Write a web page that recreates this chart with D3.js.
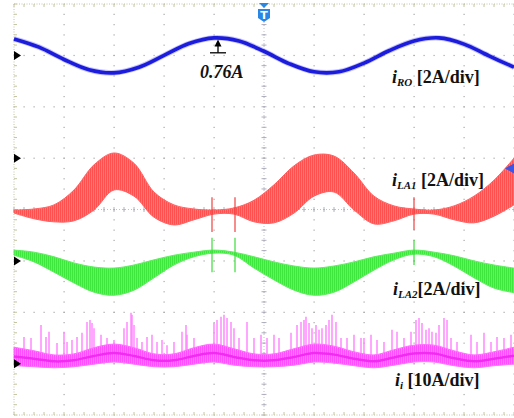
<!DOCTYPE html>
<html>
<head>
<meta charset="utf-8">
<script src="https://cdn.jsdelivr.net/npm/d3@7"></script>
<style>
  html, body { margin: 0; padding: 0; background: #fff; }
  svg { display: block; }
</style>
</head>
<body>
<div id="scope"></div>
<script>
// all values in screen divisions: time 0..10, amplitude -4..4

// iRO (blue), sampled every half division
const blueT = [0, 0.5, 1, 1.5, 2, 2.5, 3, 3.5, 4, 4.5, 5, 5.5, 6, 6.5, 7, 7.5, 8, 8.5, 9, 9.5, 10];
const blueY = [3.32, 3.16, 2.92, 2.72, 2.66, 2.77, 3.00, 3.23, 3.34, 3.28, 3.08, 2.84, 2.68, 2.68, 2.85, 3.09, 3.28, 3.34, 3.22, 2.99, 2.77];

// band traces sampled every 0.4 division
const bandT = [0, 0.4, 0.8, 1.2, 1.6, 2.0, 2.4, 2.8, 3.2, 3.6, 4.0, 4.4, 4.8, 5.2, 5.6, 6.0, 6.4, 6.8, 7.2, 7.6, 8.0, 8.4, 8.8, 9.2, 9.6, 10];

// iLA1 (red) envelope
const redHi = [-0.01, 0.01, 0.09, 0.38, 0.87, 1.10, 0.90, 0.34, 0.09, 0.01, -0.01, 0.03, 0.18, 0.48, 0.85, 1.06, 1.04, 0.71, 0.26, 0.07, 0.01, -0.01, 0.07, 0.26, 0.57, 1.00];
const redLo = [-0.07, -0.18, -0.24, -0.22, -0.01, 0.38, 0.26, -0.15, -0.30, -0.20, -0.09, -0.09, -0.24, -0.26, -0.07, 0.26, 0.34, -0.01, -0.28, -0.22, -0.09, -0.09, -0.20, -0.26, -0.13, 0.09];

// iLA2 (green) envelope
const greenHi = [-0.79, -0.83, -0.92, -1.04, -1.12, -1.14, -1.08, -0.98, -0.89, -0.83, -0.79, -0.83, -0.92, -1.02, -1.10, -1.14, -1.10, -1.02, -0.92, -0.85, -0.79, -0.83, -0.90, -1.00, -1.08, -1.14];
const greenLo = [-0.89, -1.02, -1.22, -1.43, -1.61, -1.67, -1.57, -1.33, -1.08, -0.92, -0.85, -0.89, -1.14, -1.37, -1.57, -1.67, -1.61, -1.41, -1.18, -0.98, -0.87, -0.92, -1.10, -1.33, -1.53, -1.62];

// ii (magenta) envelope
const magHi = [-2.68, -2.75, -2.83, -2.81, -2.69, -2.62, -2.69, -2.81, -2.81, -2.69, -2.62, -2.71, -2.81, -2.81, -2.71, -2.62, -2.66, -2.77, -2.83, -2.73, -2.64, -2.64, -2.75, -2.83, -2.77, -2.68];
const magLo = [-3.04, -3.06, -3.08, -3.06, -3.01, -2.97, -3.01, -3.06, -3.06, -3.01, -2.97, -3.03, -3.06, -3.06, -3.03, -2.97, -2.99, -3.04, -3.08, -3.03, -2.97, -2.97, -3.04, -3.08, -3.04, -3.01];

// ii spikes: time and peak
const spikeT = [0.20, 0.34, 0.54, 0.64, 0.70, 0.86, 1.00, 1.06, 1.16, 1.26, 1.36, 1.46, 1.52, 1.56, 1.60, 1.74, 1.86, 2.00, 2.20, 2.26,
  2.34, 2.36, 2.40, 2.46, 2.56, 2.66, 2.76, 2.86, 2.96, 3.06, 3.20, 3.36, 3.44, 3.46, 3.60, 3.80, 4.00, 4.06, 4.14, 4.20,
  4.26, 4.34, 4.40, 4.50, 4.66, 4.80, 4.94,
  5.06, 5.20, 5.30, 5.54, 5.66, 5.74, 5.80, 5.84, 5.90, 5.96, 6.04, 6.10, 6.16, 6.24, 6.30, 6.36, 6.44, 6.54, 6.66, 6.80,
  6.94, 7.00, 7.14, 7.26, 7.40, 7.56, 7.66, 7.80, 7.94, 8.04, 8.10, 8.16, 8.24, 8.30, 8.36, 8.44, 8.50, 8.60, 8.66, 8.74,
  8.86, 9.14, 9.26, 9.40, 9.54, 9.66, 9.80, 9.94];
const spikeTop = [-2.48, -2.50, -2.25, -2.48, -2.38, -2.60, -2.38, -2.58, -2.54, -2.48, -2.40, -2.19, -2.15, -2.21, -2.31, -2.44, -2.50, -2.54, -2.31, -2.19,
  -2.01, -2.05, -2.25, -2.50, -2.58, -2.48, -2.44, -2.58, -2.54, -2.64, -2.58, -2.38, -2.25, -2.44, -2.50, -2.64, -2.21, -2.15, -2.09, -2.05,
  -2.11, -2.19, -2.31, -2.50, -2.19, -2.50, -2.44,
  -2.50, -2.44, -2.50, -2.40, -2.25, -2.19, -2.15, -2.09, -2.21, -2.31, -2.25, -2.34, -2.31, -2.25, -2.15, -2.05, -2.19, -2.50, -2.50, -2.44,
  -2.50, -2.50, -2.44, -2.54, -2.58, -2.34, -2.38, -2.50, -2.38, -2.15, -2.11, -2.21, -2.34, -2.31, -2.38, -2.40, -2.25, -2.11, -2.15, -2.50,
  -2.58, -2.44, -2.58, -2.40, -2.58, -2.48, -2.50, -2.44];

// switching glitches on iLA1 / iLA2
const glitchT = [3.96, 4.42, 8.00];
const redGlitch = [[0.24, -0.44], [0.24, -0.44], [0.24, -0.40]];
const greenGlitch = [[-0.55, -1.22], [-0.55, -1.22], [-0.59, -1.08]];

// channel ground markers and labels
const groundLevels = [3, 1, -1, -3];
const channels = [
  { sub: "RO", scale: " [2A/div]", t: 7.56, a: 2.47 },
  { sub: "LA1", scale: " [2A/div]", t: 7.56, a: 0.46 },
  { sub: "LA2", scale: "[2A/div]", t: 7.58, a: -1.66 },
  { sub: "i", scale: " [10A/div]", t: 7.62, a: -3.43 }
];

const W = 514, H = 418;
const x = d3.scaleLinear().domain([0, 10]).range([14, 514]);
const y = d3.scaleLinear().domain([-4, 4]).range([415, 4]);

const svg = d3.select("#scope").append("svg")
  .attr("width", W)
  .attr("height", H);

svg.append("rect").attr("width", W).attr("height", H).attr("fill", "#fff");

// fine stripe patterns to hint at the switching ripple texture
const defs = svg.append("defs");
function stripes(id, base, light) {
  const p = defs.append("pattern")
    .attr("id", id)
    .attr("patternUnits", "userSpaceOnUse")
    .attr("width", 2).attr("height", 6);
  p.append("rect").attr("width", 2).attr("height", 6).attr("fill", base);
  p.append("rect").attr("x", 1).attr("width", 1).attr("height", 6).attr("fill", light);
}
stripes("redFill", "#ff5050", "#ff7676");
stripes("greenFill", "#3ee63e", "#66ee66");
stripes("magFill", "#ff4cff", "#ff7cff");

// grid: dotted lines with a dot every fifth of a division
const grid = svg.append("g");
const minorX = d3.range(0, 50.5).map(i => i / 5);
const minorY = d3.range(0, 40.5).map(i => i / 5 - 4);
const majorX = d3.range(0, 11);
const majorY = d3.range(-4, 5);

majorX.slice(1).forEach(mx => {
  grid.selectAll(null).data(minorY).join("rect")
    .attr("x", x(mx) - 0.5).attr("y", d => y(d) - 0.5)
    .attr("width", 1.2).attr("height", 1.2)
    .attr("fill", "#a8a8a8");
});
majorY.slice(1, -1).forEach(my => {
  grid.selectAll(null).data(minorX).join("rect")
    .attr("x", d => x(d) - 0.5).attr("y", y(my) - 0.5)
    .attr("width", 1.2).attr("height", 1.2)
    .attr("fill", "#a8a8a8");
});

// center cross with ticks
grid.selectAll(null).data(minorX).join("line")
  .attr("x1", d => x(d)).attr("x2", d => x(d))
  .attr("y1", y(0) - 2.5).attr("y2", y(0) + 2.5)
  .attr("stroke", "#a8a8b8").attr("stroke-width", 0.9);
grid.selectAll(null).data(minorY).join("line")
  .attr("y1", d => y(d)).attr("y2", d => y(d))
  .attr("x1", x(5) - 2.5).attr("x2", x(5) + 2.5)
  .attr("stroke", "#a8a8b8").attr("stroke-width", 0.9);
grid.append("line")
  .attr("x1", x(0)).attr("x2", x(10)).attr("y1", y(0)).attr("y2", y(0))
  .attr("stroke", "#b0b0c4").attr("stroke-width", 0.8).attr("stroke-dasharray", "1,2");
grid.append("line")
  .attr("x1", x(5)).attr("x2", x(5)).attr("y1", y(4)).attr("y2", y(-4))
  .attr("stroke", "#b0b0c4").attr("stroke-width", 0.8).attr("stroke-dasharray", "1,2");

// border
const borderCol = "#c4c4a4";
[[x(0), y(4), x(10), y(4)], [x(0), y(-4), x(10), y(-4)], [x(0), y(4), x(0), y(-4)]].forEach(b => {
  grid.append("line")
    .attr("x1", b[0]).attr("y1", b[1]).attr("x2", b[2]).attr("y2", b[3])
    .attr("stroke", borderCol).attr("stroke-width", 1)
    .attr("stroke-dasharray", "1,1.5");
});
grid.selectAll(null).data(minorX).join("line")
  .attr("x1", d => x(d)).attr("x2", d => x(d))
  .attr("y1", y(4)).attr("y2", y(4) + 3)
  .attr("stroke", borderCol);
grid.selectAll(null).data(minorX).join("line")
  .attr("x1", d => x(d)).attr("x2", d => x(d))
  .attr("y1", y(-4)).attr("y2", y(-4) - 3)
  .attr("stroke", borderCol);
grid.selectAll(null).data(minorY).join("line")
  .attr("y1", d => y(d)).attr("y2", d => y(d))
  .attr("x1", x(0)).attr("x2", x(0) + 3)
  .attr("stroke", borderCol);

// traces
const traces = svg.append("g");
const band = d3.area()
  .x(d => x(d.t))
  .y0(d => y(d.lo))
  .y1(d => y(d.hi))
  .curve(d3.curveCatmullRom.alpha(0.5));
const mid = d3.line()
  .x(d => x(d.t))
  .y(d => y((d.lo + d.hi) / 2))
  .curve(d3.curveCatmullRom.alpha(0.5));

function rows(hi, lo) {
  return bandT.map((t, i) => ({ t: t, hi: hi[i], lo: lo[i] }));
}

const redRows = rows(redHi, redLo);
const greenRows = rows(greenHi, greenLo);
const magRows = rows(magHi, magLo);

// magenta spikes behind the band
traces.selectAll(".spike").data(spikeT).join("line")
  .attr("class", "spike")
  .attr("x1", d => x(d)).attr("x2", d => x(d))
  .attr("y1", y(-2.9))
  .attr("y2", (d, i) => y(spikeTop[i]))
  .attr("stroke", "#ff80ff").attr("stroke-width", 1.4);

traces.append("path").datum(magRows)
  .attr("d", band).attr("fill", "url(#magFill)").attr("stroke", "#ff70ff").attr("stroke-width", 1);
traces.append("path").datum(magRows)
  .attr("d", mid).attr("fill", "none").attr("stroke", "#f02cf0").attr("stroke-width", 2.5);

traces.append("path").datum(greenRows)
  .attr("d", band).attr("fill", "url(#greenFill)").attr("stroke", "#60ee60").attr("stroke-width", 1);
traces.selectAll(".gglitch").data(glitchT).join("line")
  .attr("class", "gglitch")
  .attr("x1", d => x(d)).attr("x2", d => x(d))
  .attr("y1", (d, i) => y(greenGlitch[i][0]))
  .attr("y2", (d, i) => y(greenGlitch[i][1]))
  .attr("stroke", "#3cdc3c").attr("stroke-width", 1.2);

traces.append("path").datum(redRows)
  .attr("d", band).attr("fill", "url(#redFill)").attr("stroke", "#ff6262").attr("stroke-width", 1);
traces.selectAll(".rglitch").data(glitchT).join("line")
  .attr("class", "rglitch")
  .attr("x1", d => x(d)).attr("x2", d => x(d))
  .attr("y1", (d, i) => y(redGlitch[i][0]))
  .attr("y2", (d, i) => y(redGlitch[i][1]))
  .attr("stroke", "#f04040").attr("stroke-width", 1.2);

const blueLine = d3.line()
  .x((d, i) => x(blueT[i]))
  .y(d => y(d))
  .curve(d3.curveCatmullRom.alpha(0.5));
traces.append("path").datum(blueY)
  .attr("d", blueLine).attr("fill", "none")
  .attr("stroke", "#3a3ae8").attr("stroke-width", 5.5).attr("stroke-opacity", 0.3);
traces.append("path").datum(blueY)
  .attr("d", blueLine).attr("fill", "none")
  .attr("stroke", "#1c1cdc").attr("stroke-width", 3.6);

// ground markers
svg.selectAll(".gnd").data(groundLevels).join("path")
  .attr("class", "gnd")
  .attr("d", d => `M${x(0)},${y(d) - 4.5}L${x(0) + 7},${y(d)}L${x(0)},${y(d) + 4.5}Z`)
  .attr("fill", "#000");

// trigger marker at top centre
const tx = x(5);
svg.append("path")
  .attr("d", `M${tx - 5},${y(4) - 1}L${tx + 5},${y(4) - 1}L${tx},${y(4) + 4}Z`)
  .attr("fill", "#2a86e4");
svg.append("path")
  .attr("d", `M${tx - 6},${y(4) + 5}L${tx + 6},${y(4) + 5}L${tx + 6},${y(4) + 14}L${tx},${y(4) + 18}L${tx - 6},${y(4) + 14}Z`)
  .attr("fill", "#2a86e4");
svg.append("text")
  .attr("x", tx).attr("y", y(4) + 14.5)
  .attr("text-anchor", "middle")
  .attr("font-family", "DejaVu Sans, sans-serif")
  .attr("font-weight", "bold").attr("font-size", 11)
  .attr("fill", "#fff").text("T");

// trigger level arrow on the right
svg.append("path")
  .attr("d", `M${x(10) - 9},${y(0.8)}L${x(10)},${y(0.8) - 5}L${x(10)},${y(0.8) + 5}Z`)
  .attr("fill", "#3a56e6");

// 0.76A annotation
const ann = { t: 4.08, tip: 3.31, base: 3.05 };
const ag = svg.append("g").attr("stroke", "#000").attr("fill", "#000");
ag.append("line")
  .attr("x1", x(ann.t)).attr("x2", x(ann.t))
  .attr("y1", y(ann.base)).attr("y2", y(ann.tip) + 4)
  .attr("stroke-width", 1.3);
ag.append("line")
  .attr("x1", x(ann.t) - 8).attr("x2", x(ann.t) + 8)
  .attr("y1", y(ann.base)).attr("y2", y(ann.base))
  .attr("stroke-width", 1.3);
ag.append("path")
  .attr("d", `M${x(ann.t)},${y(ann.tip)}L${x(ann.t) - 3.5},${y(ann.tip) + 7}L${x(ann.t) + 3.5},${y(ann.tip) + 7}Z`)
  .attr("stroke", "none");
svg.append("text")
  .attr("x", x(3.72)).attr("y", y(2.56))
  .attr("font-family", "Liberation Serif, Times New Roman, serif")
  .attr("font-style", "italic").attr("font-weight", "bold")
  .attr("font-size", 18).attr("fill", "#111")
  .text("0.76A");

// channel labels
const labels = svg.selectAll(".lbl").data(channels).join("text")
  .attr("class", "lbl")
  .attr("x", d => x(d.t)).attr("y", d => y(d.a))
  .attr("font-family", "Liberation Serif, Times New Roman, serif")
  .attr("font-weight", "bold").attr("font-size", 18).attr("fill", "#111");
labels.append("tspan").attr("font-style", "italic").text("i");
labels.append("tspan").attr("font-style", "italic").attr("font-size", 11)
  .attr("dy", 3).text(d => d.sub);
labels.append("tspan").attr("dy", -3).text(d => d.scale);
</script>
</body>
</html>
